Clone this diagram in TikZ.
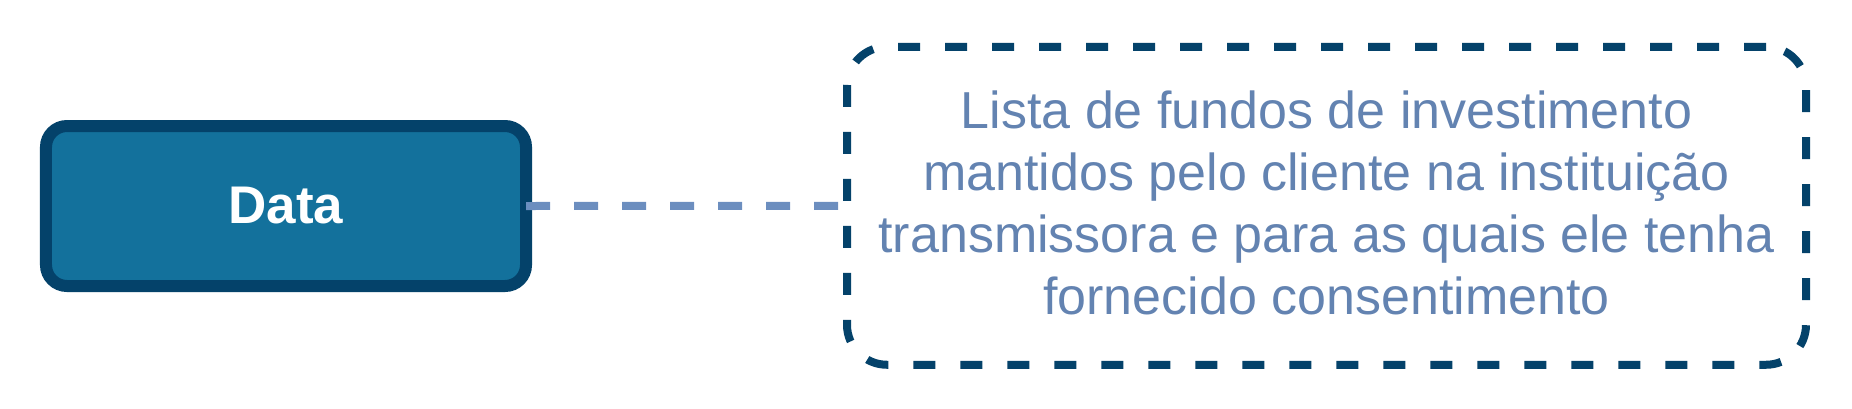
\documentclass[tikz,border=0pt]{standalone}
\usepackage{fontspec}
\setmainfont{Liberation Sans}
\definecolor{datafill}{HTML}{13719C}
\definecolor{darkblue}{HTML}{04426A}
\definecolor{linkblue}{HTML}{6C8EBF}
\definecolor{textblue}{HTML}{6383B1}
\begin{document}
\begin{tikzpicture}[x=1bp,y=-1bp,
  databox/.style={draw=darkblue, fill=datafill, line width=12bp, rounded corners=21bp,
    minimum width=480bp, minimum height=160bp, inner sep=0pt, outer sep=0pt,
    text=white, font=\fontsize{53bp}{62bp}\selectfont\bfseries},
  descbox/.style={draw=darkblue, line width=8bp, rounded corners=40bp,
    dash pattern=on 22bp off 25bp,
    minimum width=959bp, minimum height=318bp, inner sep=0pt, outer sep=0pt},
  desctext/.style={text=textblue, align=center, inner sep=0pt,
    font=\fontsize{52bp}{62bp}\selectfont},
  link/.style={draw=linkblue, line width=8bp, dash pattern=on 24bp off 24bp}
]
\useasboundingbox (0,0) rectangle (1852,408);
\node[databox] (data) at (286,206) {Data};
\node[descbox] (desc) at (1326.5,205.75) {};
\node[desctext] (desctxt) at (1326.5,203) {Lista de fundos de investimento\\mantidos pelo cliente na instituição\\transmissora e para as quais ele tenha\\fornecido consentimento};
\draw[link] (data.east) -- (desc.west);
\end{tikzpicture}
\end{document}
